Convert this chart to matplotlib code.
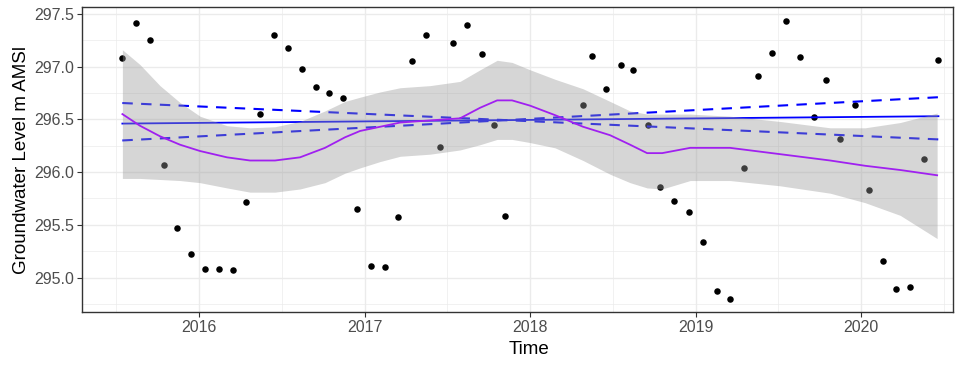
"""
Groundwater level time series with linear trend, trend bounds and a loess smooth.
"""
import matplotlib

matplotlib.use("Agg")
import matplotlib.pyplot as plt
from matplotlib.ticker import FormatStrFormatter, MultipleLocator

plt.rcParams["font.family"] = ["Liberation Sans", "DejaVu Sans"]

# observations (decimal year, level m AMSl)
obs_time = [
    2015.537, 2015.618, 2015.702, 2015.789, 2015.865, 2015.952, 2016.036, 2016.123,
    2016.207, 2016.286, 2016.370, 2016.455, 2016.540, 2016.621, 2016.705, 2016.784,
    2016.868, 2016.955, 2017.039, 2017.126, 2017.202, 2017.289, 2017.373, 2017.458,
    2017.537, 2017.621, 2017.708, 2017.784, 2017.847, 2018.322, 2018.376, 2018.461,
    2018.548, 2018.624, 2018.711, 2018.787, 2018.872, 2018.959, 2019.045, 2019.130,
    2019.207, 2019.293, 2019.378, 2019.464, 2019.549, 2019.630, 2019.714, 2019.790,
    2019.875, 2019.960, 2020.047, 2020.133, 2020.210, 2020.296, 2020.381, 2020.467,
]
obs_level = [
    297.08, 297.41, 297.25, 296.07, 295.47, 295.22, 295.08, 295.08,
    295.07, 295.72, 296.55, 297.30, 297.18, 296.98, 296.81, 296.75,
    296.70, 295.65, 295.11, 295.10, 295.57, 297.05, 297.30, 296.24,
    297.22, 297.39, 297.12, 296.45, 295.58, 296.64, 297.10, 296.79,
    297.02, 296.97, 296.45, 295.86, 295.73, 295.62, 295.34, 294.87,
    294.80, 296.04, 296.91, 297.13, 297.43, 297.09, 296.52, 296.87,
    296.31, 296.64, 295.83, 295.16, 294.89, 294.91, 296.12, 297.06,
]

# linear trend and its slope bounds (values at first and last date)
trend_time = [2015.537, 2020.467]
trend_fit = [296.46, 296.53]
trend_hi_slope = [296.30, 296.71]
trend_lo_slope = [296.655, 296.31]

# loess smooth with confidence band
smooth_time = [
    2015.537, 2015.643, 2015.764, 2015.885, 2016.006, 2016.169, 2016.308, 2016.459,
    2016.610, 2016.761, 2016.882, 2016.973, 2017.094, 2017.215, 2017.396, 2017.577,
    2017.698, 2017.801, 2017.891, 2018.000, 2018.151, 2018.320, 2018.483, 2018.604,
    2018.707, 2018.798, 2018.967, 2019.208, 2019.511, 2019.813, 2020.024, 2020.236,
    2020.459,
]
smooth_fit = [
    296.55, 296.44, 296.34, 296.26, 296.20, 296.14, 296.11, 296.11,
    296.14, 296.23, 296.33, 296.39, 296.43, 296.47, 296.49, 296.51,
    296.61, 296.68, 296.68, 296.63, 296.54, 296.43, 296.35, 296.26,
    296.18, 296.18, 296.23, 296.23, 296.17, 296.11, 296.06, 296.02,
    295.97,
]
smooth_upper = [
    297.16, 297.02, 296.82, 296.66, 296.53, 296.44, 296.42, 296.43,
    296.48, 296.58, 296.67, 296.71, 296.76, 296.80, 296.82, 296.86,
    296.97, 297.06, 297.04, 296.97, 296.88, 296.79, 296.67, 296.58,
    296.55, 296.55, 296.55, 296.53, 296.48, 296.42, 296.42, 296.47,
    296.56,
]
smooth_lower = [
    295.94, 295.94, 295.93, 295.92, 295.90, 295.85, 295.81, 295.81,
    295.84, 295.90, 295.99, 296.04, 296.10, 296.15, 296.17, 296.21,
    296.26, 296.31, 296.31, 296.28, 296.23, 296.11, 295.98, 295.90,
    295.85, 295.84, 295.92, 295.92, 295.87, 295.80, 295.71, 295.59,
    295.37,
]

year_ticks = [2016, 2017, 2018, 2019, 2020]

fig = plt.figure(figsize=(9.68, 3.65), dpi=100)
ax = fig.add_axes([0.0847, 0.145, 0.9, 0.836])

ax.scatter(obs_time, obs_level, s=22, color="black", linewidths=0, zorder=2)

ax.plot(trend_time, trend_fit, color="#0000FF", linewidth=1.3, zorder=3)
for bound in (trend_hi_slope, trend_lo_slope):
    ax.plot(trend_time, bound, color="#0000FF", linewidth=1.5,
            dashes=(5, 4), zorder=3)

ax.fill_between(smooth_time, smooth_lower, smooth_upper, color="#999999",
                alpha=0.4, linewidth=0, zorder=4)
ax.plot(smooth_time, smooth_fit, color="#A020F0", linewidth=1.3, zorder=5)

ax.set_xlim(2015.293, 2020.556)
ax.set_ylim(294.673, 297.566)
ax.set_xticks(year_ticks)
ax.set_xticklabels([str(y) for y in year_ticks])
ax.xaxis.set_minor_locator(MultipleLocator(0.5))
ax.yaxis.set_major_locator(MultipleLocator(0.5))
ax.yaxis.set_minor_locator(MultipleLocator(0.25))
ax.yaxis.set_major_formatter(FormatStrFormatter("%.1f"))

# theme_bw look
ax.grid(which="major", color="#EBEBEB", linewidth=1.0, zorder=0)
ax.grid(which="minor", color="#EBEBEB", linewidth=0.5, zorder=0)
ax.set_axisbelow(True)
for sp in ax.spines.values():
    sp.set_color("#333333")
    sp.set_linewidth(1.0)
ax.tick_params(which="major", length=3.5, width=0.8, color="#333333",
               labelcolor="#4D4D4D", labelsize=11.5, pad=2)
ax.tick_params(which="minor", length=0)

ax.set_xlabel("Time", fontsize=13.5, color="black")
ax.xaxis.set_label_coords(0.513, -0.095)
ax.set_ylabel("Groundwater Level m AMSl", fontsize=13.5, color="black", labelpad=3)

fig.savefig("out.png", dpi=100)
plt.close(fig)
